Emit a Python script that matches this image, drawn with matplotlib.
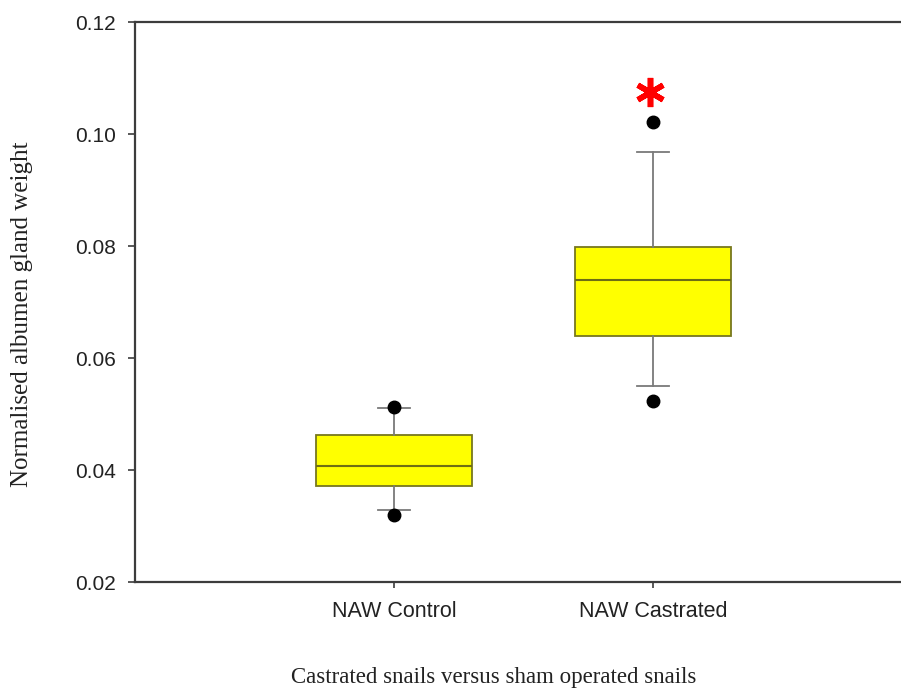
import matplotlib
matplotlib.use("Agg")
import matplotlib.pyplot as plt

# values
groups = ["NAW Control", "NAW Castrated"]
medians = [0.0407, 0.0739]
q1 = [0.0371, 0.0640]
q3 = [0.0463, 0.0798]
whisk_lo = [0.0328, 0.0550]
whisk_hi = [0.0510, 0.0968]
outliers = [[0.0513, 0.0319], [0.1021, 0.0523]]
signif_y = 0.1075  # red asterisk above castrated group

stats = []
for i, name in enumerate(groups):
    stats.append({
        "label": name,
        "med": medians[i],
        "q1": q1[i],
        "q3": q3[i],
        "whislo": whisk_lo[i],
        "whishi": whisk_hi[i],
        "fliers": outliers[i],
    })

fig = plt.figure(figsize=(9.01, 6.91), dpi=100)
ax = fig.add_axes([135 / 901, 109 / 691, 777 / 901, 560 / 691])

ax.bxp(
    stats,
    positions=[1, 2],
    widths=0.6,
    patch_artist=True,
    boxprops=dict(facecolor="#ffff00", edgecolor="#77771e", linewidth=1.3),
    medianprops=dict(color="#6e6e14", linewidth=1.5),
    whiskerprops=dict(color="#7a7a7a", linewidth=1.3),
    capprops=dict(color="#7a7a7a", linewidth=1.3),
    capwidths=0.12,
    flierprops=dict(marker="o", markerfacecolor="black", markeredgecolor="black",
                    markersize=9),
)

ax.plot([1.99], [signif_y], marker=(6, 2, 0), color="red", markersize=21,
        markeredgewidth=4, linestyle="none")

ax.set_xlim(0, 3)
ax.set_ylim(0.02, 0.12)
ax.set_yticks([0.02, 0.04, 0.06, 0.08, 0.10, 0.12])
ax.set_yticklabels(["0.02", "0.04", "0.06", "0.08", "0.10", "0.12"])
ax.set_xticks([1, 2])
ax.set_xticklabels(groups)

for side in ["left", "bottom", "top"]:
    ax.spines[side].set_color("#3c3c3c")
    ax.spines[side].set_linewidth(1.6)
ax.spines["right"].set_visible(False)

ax.tick_params(axis="y", direction="out", length=5, width=1.2, color="#3c3c3c",
               labelsize=15, pad=9, labelcolor="#222222")
ax.tick_params(axis="x", direction="out", length=4, width=1.2, color="#3c3c3c",
               labelsize=15.5, pad=10, labelcolor="#222222")
for lab in ax.get_xticklabels() + ax.get_yticklabels():
    lab.set_fontfamily("Liberation Sans")

fig.text(22 / 901, 1 - 314 / 691, "Normalised albumen gland weight",
         family="Liberation Serif", fontsize=18, rotation=90,
         ha="center", va="center", color="#222222")
fig.text(494 / 901, 1 - 677 / 691, "Castrated snails versus sham operated snails",
         family="Liberation Serif", fontsize=16.5, ha="center", va="center",
         color="#222222")

fig.savefig("out.png", dpi=100)
